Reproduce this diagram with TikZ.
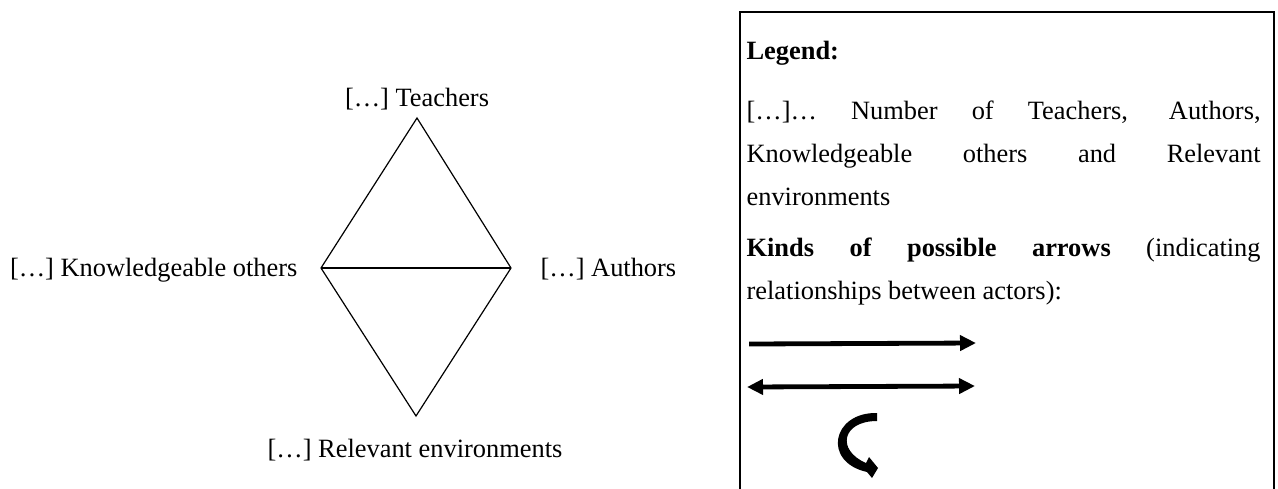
\documentclass[tikz,border=0pt]{standalone}
\usepackage{fontspec}
\setmainfont{Liberation Serif}
\usetikzlibrary{arrows.meta}

\begin{document}
\begin{tikzpicture}[x=0.5pt,y=-0.5pt,semithick,
                    font=\fontsize{13.2}{21.5}\selectfont]
  \tikzstyle{actor}=[inner sep=0pt,anchor=base]
  \tikzstyle{legendtext}=[inner sep=0pt,anchor=base west,text width=257pt,align=justify]
  \tikzstyle{kind}=[line width=2.4pt,{Triangle[length=8pt,width=7.5pt]}-{Triangle[length=8pt,width=7.5pt]}]

  \useasboundingbox (0,0) rectangle (1278,488);

  % corners of the diamond
  \coordinate (T) at (417,118);
  \coordinate (K) at (321,268);
  \coordinate (A) at (511,268);
  \coordinate (R) at (416,416);

  \node[actor]                  (lt) at (417,106) {[…] Teachers};
  \node[actor,anchor=base east] (lk) at (298,276) {[…] Knowledgeable others};
  \node[actor,anchor=base west] (la) at (540,276) {[…] Authors};
  \node[actor]                  (lr) at (415,457) {[…] Relevant environments};

  \draw (T) -- (K) -- (R) -- (A) -- cycle;
  \draw (K) -- (A);

  % legend
  \draw[line width=0.9pt] (740,495) -- (740,12) -- (1274,12) -- (1274,495);
  \node[legendtext] (title) at (746,59)  {\textbf{Legend:}};
  \node[legendtext] (desc)  at (746,119) {[…]… Number of Teachers, Authors,\linebreak
    Knowledgeable others and Relevant\linebreak environments};
  \node[legendtext] (kinds) at (746,256) {\textbf{Kinds of possible arrows} (indicating\linebreak
    relationships between actors):};

  \coordinate (a1) at (749,344);
  \coordinate (b1) at (976,343);
  \coordinate (a2) at (747,387);
  \coordinate (b2) at (975,386);

  \draw[kind,-{Triangle[length=8pt,width=7.5pt]}] (a1) -- (b1);
  \draw[kind] (a2) -- (b2);

  % curved arrow (self relation)
  \fill (877,413) .. controls (832,412) and (822,462) .. (867,472)
        -- (872,478) -- (878,468) -- (869,457) -- (866,463)
        .. controls (836,450) and (842,421) .. (877,421) -- cycle;
\end{tikzpicture}
\end{document}
